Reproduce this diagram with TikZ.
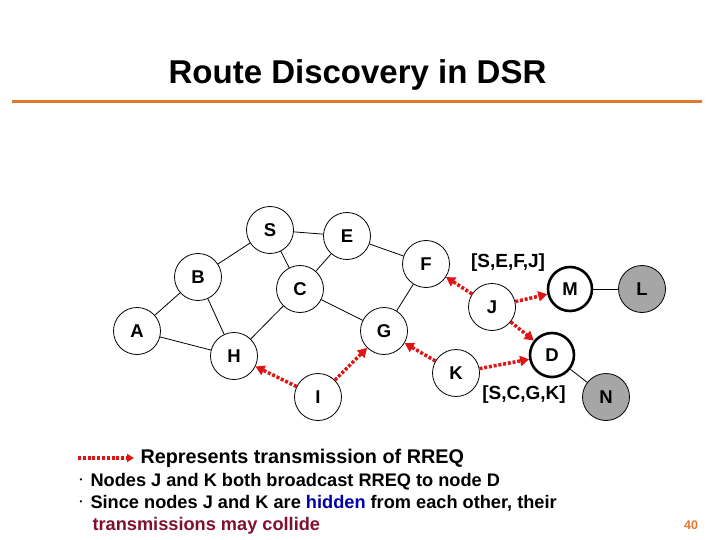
\documentclass[tikz,border=0pt]{standalone}
\usepackage{fontspec}
\setmainfont{Liberation Sans}
\usetikzlibrary{arrows.meta}
\definecolor{rreq}{RGB}{225,20,20}
\definecolor{orangeline}{RGB}{224,120,48}
\definecolor{hidblue}{RGB}{0,0,170}
\definecolor{collred}{RGB}{128,16,48}
\definecolor{nodegray}{RGB}{166,166,166}
\begin{document}
\begin{tikzpicture}[x=1pt,y=-1pt,
  nd/.style={circle,draw,line width=0.8pt,minimum size=47pt,inner sep=0pt,
    font=\fontsize{18.5}{18.5}\bfseries\selectfont},
  dest/.style={nd,line width=2.6pt,minimum size=44pt},
  grey/.style={nd,fill=nodegray},
  link/.style={line width=0.8pt},
  rr/.style={draw=rreq,line width=3.5pt,dash pattern=on 3pt off 1.8pt,
    -{Triangle[length=9pt,width=10pt,fill=rreq]}},
  routelbl/.style={font=\fontsize{19}{19}\bfseries\selectfont},
  bullettxt/.style={anchor=base west,font=\fontsize{18.2}{18.2}\bfseries\selectfont},
  bulletdot/.style={font=\fontsize{8}{8}\selectfont,inner sep=0pt}
]
\useasboundingbox (0,0) rectangle (720,540);
\fill[white] (0,0) rectangle (720,540);

% title
\node[anchor=base,font=\fontsize{33}{33}\bfseries\selectfont] (title) at (357.5,84) {Route Discovery in DSR};
\coordinate (ol) at (12,102);
\coordinate (or) at (702,102);
\draw[orangeline,line width=3pt] (ol) -- (or);

% nodes
\node[nd] (S) at (270,230) {S};
\node[nd] (E) at (347,236) {E};
\node[nd] (B) at (198,277) {B};
\node[nd] (C) at (300,289) {C};
\node[nd] (A) at (137,331) {A};
\node[nd] (H) at (234,356) {H};
\node[nd] (G) at (384,331) {G};
\node[nd] (I) at (318,397) {I};
\node[nd] (F) at (426,264) {F};
\node[nd] (J) at (492,307) {J};
\node[nd] (K) at (456,373) {K};
\node[dest] (M) at (570,289) {M};
\node[dest] (D) at (552,355) {D};
\node[grey] (L) at (642,289) {L};
\node[grey] (N) at (606,397) {N};

% links
\draw[link] (S) -- (E);
\draw[link] (S) -- (B);
\draw[link] (S) -- (C);
\draw[link] (E) -- (C);
\draw[link] (E) -- (F);
\draw[link] (B) -- (A);
\draw[link] (B) -- (H);
\draw[link] (A) -- (H);
\draw[link] (H) -- (C);
\draw[link] (C) -- (G);
\draw[link] (G) -- (F);
\draw[link] (M) -- (L);
\draw[link] (D) -- (N);

% RREQ transmissions
\draw[rr] (I) -- (H);
\draw[rr] (I) -- (G);
\draw[rr] (K) -- (G);
\draw[rr] (K) -- (D);
\draw[rr] (J) -- (F);
\draw[rr] (J) -- (M);
\draw[rr] (J) -- (D);

% route labels
\node[routelbl] (r1) at (508,263) {[S,E,F,J]};
\node[routelbl] (r2) at (524,395) {[S,C,G,K]};

% legend
\coordinate (la) at (78,458);
\coordinate (lb) at (134,458);
\draw[rr,-{Triangle[length=7pt,width=8pt,fill=rreq]}] (la) -- (lb);
\node[anchor=base west,font=\fontsize{19.8}{19.8}\bfseries\selectfont] (leg) at (137,463) {Represents transmission of RREQ};

% bullets
\node[bulletdot] (d1) at (81,481) {•};
\node[bullettxt] (b1) at (87,486) {Nodes J and K both broadcast RREQ to node D};
\node[bulletdot] (d2) at (81,503) {•};
\node[bullettxt] (b2) at (87,508) {Since nodes J and K are {\color{hidblue}hidden} from each other, their};
\node[bullettxt,text=collred] (b3) at (89,530) {transmissions may collide};

% page number
\node[font=\fontsize{12.5}{12.5}\bfseries\selectfont,text=orangeline] (pg) at (691,525) {40};
\end{tikzpicture}
\end{document}
